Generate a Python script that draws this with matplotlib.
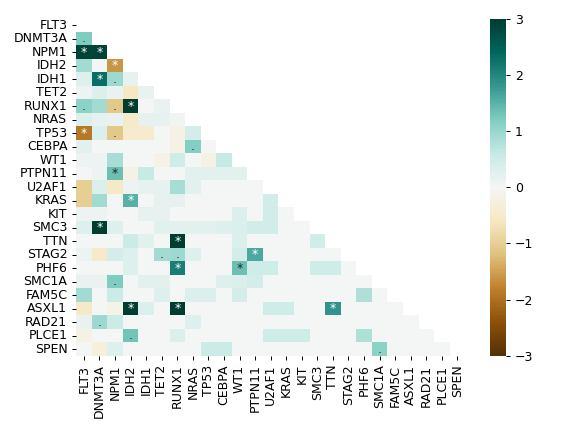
import numpy as np
import pandas as pd
import matplotlib
matplotlib.use("Agg")
import matplotlib.pyplot as plt
import seaborn as sns

genes = ["FLT3", "DNMT3A", "NPM1", "IDH2", "IDH1", "TET2", "RUNX1", "NRAS",
         "TP53", "CEBPA", "WT1", "PTPN11", "U2AF1", "KRAS", "KIT", "SMC3",
         "TTN", "STAG2", "PHF6", "SMC1A", "FAM5C", "ASXL1", "RAD21", "PLCE1",
         "SPEN"]

# lower triangle, row i holds values for columns 0..i-1
lower_rows = [
    [],
    [1.2],
    [2.9, 2.9],
    [0.9, 0.0, -1.6],
    [0.3, 2.3, 0.95, 0.2],
    [0.1, 0.35, 0.15, -0.6, 0.15],
    [1.1, 0.9, -1.1, 3.0, 0.0, 0.15],
    [0.35, 0.2, 0.15, -0.5, 0.2, 0.2, 0.05],
    [-1.9, 0.35, -1.1, -0.45, -0.45, 0.0, -0.2, 0.4],
    [0.25, 0, 0, 0, 0, 0, -0.2, 1.15, 0],
    [0.1, 0.1, 0.85, 0, 0, -0.2, 0.5, 0, -0.2, 0.6],
    [0, 0.1, 1.35, -0.2, 0.6, 0, 0, 0.25, 0.25, 0.25, 0.25],
    [-1.0, 0.35, -0.55, 0.1, 0.2, 0.2, 0.85, 0.25, 0, 0, 0, 0],
    [-1.0, 0.9, 0, 1.5, 0, 0.2, 0.2, 0, 0, 0, 0, 0, 0.45],
    [0.1, 0.1, 0, 0, 0.2, 0.2, 0, 0, 0, 0, 0.35, 0, 0.45, 0],
    [0.3, 3.0, 0.3, 0, 0, 0.25, 0.25, 0.25, 0.25, 0.3, 0.35, 0.45, 0.45, 0, 0],
    [0, 0, 0, 0.55, 0.25, 0, 3.0, 0, 0, 0, 0.35, 0, 0, 0, 0, 0.45],
    [0.1, -0.5, 0.4, 0.3, 0, 0.9, 0.95, 0.3, 0, 0, 0.4, 1.6, 0, 0, 0, 0, 0],
    [0, 0, 0, 0.3, 0, 0, 2.1, 0, 0, 0, 1.35, 0.5, 0.5, 0, 0, 0.5, 0.5, 0],
    [0.15, 0.15, 1.2, 0, 0.25, 0.25, 0, 0, 0, 0.3, 0.35, 0.4, 0, 0, 0, 0, 0, 0, 0],
    [0.9, 0, 0.55, 0, 0, 0.3, 0, 0.35, 0.35, 0, 0.4, 0, 0, 0, 0, 0, 0, 0, 0.8, 0],
    [-0.55, 0, -0.15, 3.0, 0.35, 0, 3.0, 0, 0, 0, 0, 0, 0.5, 0.5, 0, 0, 1.85,
     0, 0, 0, 0],
    [0.15, 0.95, 0.55, 0, 0, 0, 0, 0.3, 0, 0, 0, 0, 0, 0, 0, 0, 0, 0, 0, 0, 0,
     0],
    [-0.2, 0, 0, 1.3, 0, 0, 0.35, 0, 0, 0, 0, 0, 0.5, 0.5, 0.5, 0, 0, 0, 0.8,
     0, 0, 0, 0],
    [0, -0.3, 0.3, 0, 0, 0, 0, 0, 0.55, 0.55, 0, 0, 0, 0, 0, 0, 0, 0, 0, 1.1,
     0, 0, 0, 0],
]

# significance marks (row, col, symbol)
marks = [
    (1, 0, "."), (2, 0, "*"), (2, 1, "*"), (3, 2, "*"), (4, 1, "*"),
    (4, 2, "."), (6, 0, "."), (6, 2, "."), (6, 3, "*"), (8, 0, "*"),
    (8, 2, "."), (9, 7, "."), (11, 2, "*"), (13, 3, "*"), (15, 1, "*"),
    (16, 6, "*"), (17, 5, "."), (17, 6, "."), (17, 11, "*"), (18, 6, "*"),
    (18, 10, "*"), (19, 2, "."), (21, 3, "*"), (21, 6, "*"), (21, 16, "*"),
    (22, 1, "."), (23, 3, "."), (24, 19, "."),
]

n = len(genes)
vals = np.zeros((n, n))
for i, row in enumerate(lower_rows):
    vals[i, :len(row)] = row
vals = vals + np.tril(vals, -1).T
df = pd.DataFrame(vals, index=genes, columns=genes)

annot = np.full((n, n), "", dtype=object)
for i, j, s in marks:
    annot[i, j] = s

mask = np.triu(np.ones((n, n), dtype=bool))

fig = plt.figure(figsize=(6.4, 4.8), dpi=90)
ax = sns.heatmap(df, mask=mask, cmap="BrBG", vmin=-3, vmax=3,
                 annot=annot, fmt="")
plt.tight_layout()
plt.savefig("out.png", dpi=90)
